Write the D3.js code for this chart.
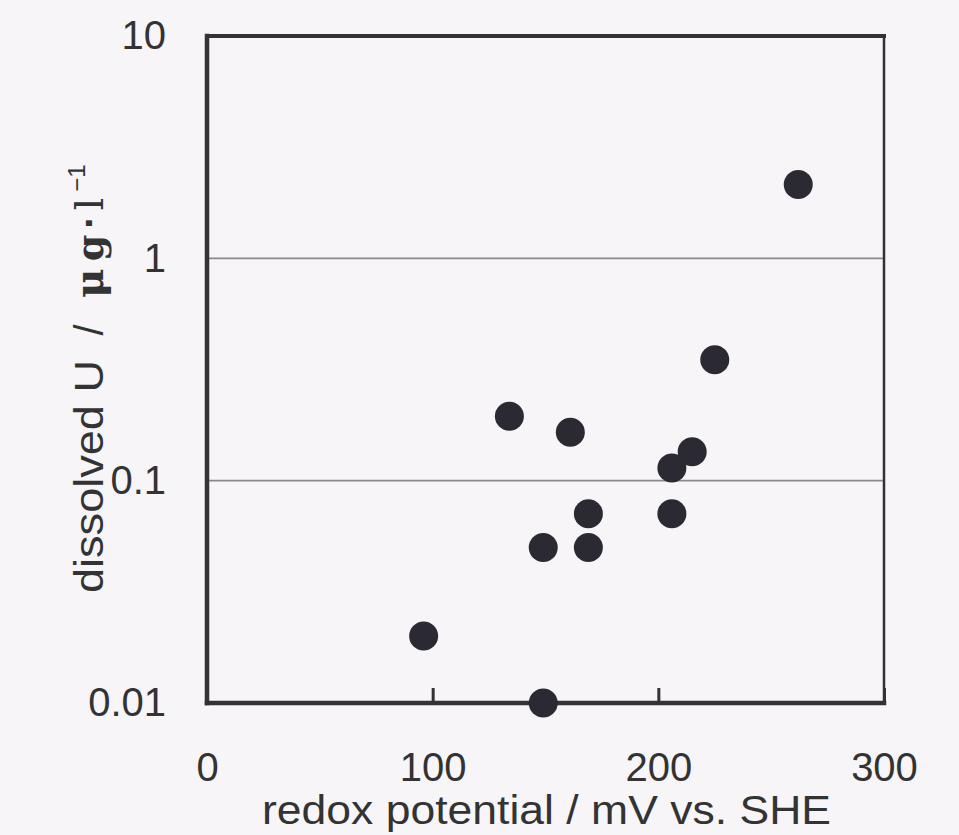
<!DOCTYPE html>
<html>
<head>
<meta charset="utf-8">
<script src="https://cdn.jsdelivr.net/npm/d3@7"></script>
<style>
  body { margin: 0; background: #f7f5f7; }
  svg { display: block; }
  text { font-family: "Liberation Sans", Arial, sans-serif; fill: #333; }
</style>
</head>
<body>
<div id="container"></div>
<script>
// redox potential (mV vs. SHE) and dissolved U (ug/l)
const redox = [96, 134, 149, 161, 169, 169, 149, 206, 215, 206, 225, 262];
const dissolvedU = [0.02, 0.195, 0.05, 0.165, 0.071, 0.05, 0.01, 0.114, 0.135, 0.071, 0.35, 2.15];

const xTicks = [0, 100, 200, 300];
const yTicks = [0.01, 0.1, 1, 10];
const gridValues = [0.1, 1];

const width = 959;
const height = 835;
const margin = {top: 36, right: 75, bottom: 132, left: 207};

const svg = d3.select("#container")
  .append("svg")
  .attr("width", width)
  .attr("height", height);

svg.append("rect")
  .attr("width", width)
  .attr("height", height)
  .attr("fill", "#f7f5f7");

const x = d3.scaleLinear()
  .domain([0, 300])
  .range([margin.left, width - margin.right]);

const y = d3.scaleLog()
  .domain([0.01, 10])
  .range([height - margin.bottom, margin.top]);

// grid lines
svg.selectAll("line.grid")
  .data(gridValues)
  .enter().append("line")
  .attr("class", "grid")
  .attr("x1", x(0))
  .attr("x2", x(300))
  .attr("y1", d => y(d))
  .attr("y2", d => y(d))
  .attr("stroke", "#8a8a8a")
  .attr("stroke-width", 1.6);

// x axis (inward ticks)
const xAxis = svg.append("g")
  .attr("transform", `translate(0,${y(0.01)})`)
  .call(d3.axisBottom(x)
    .tickValues(xTicks)
    .tickSizeInner(-15)
    .tickSizeOuter(0)
    .tickPadding(50)
    .tickFormat(d3.format("d")));
xAxis.select(".domain").remove();
xAxis.selectAll(".tick line").attr("stroke", "#333").attr("stroke-width", 3);
xAxis.selectAll(".tick text")
  .style("font-size", "40px")
  .attr("fill", "#333");

// y axis
const yAxis = svg.append("g")
  .attr("transform", `translate(${x(0)},0)`)
  .call(d3.axisLeft(y)
    .tickValues(yTicks)
    .tickSize(0)
    .tickPadding(41)
    .tickFormat(d => String(d)));
yAxis.select(".domain").remove();
yAxis.selectAll(".tick text")
  .style("font-size", "40px")
  .attr("fill", "#333");

// frame
const frame = svg.append("g").attr("stroke", "#333").attr("stroke-linecap", "square");
frame.append("line")
  .attr("x1", x(0)).attr("x2", x(300))
  .attr("y1", y(10)).attr("y2", y(10))
  .attr("stroke-width", 4);
frame.append("line")
  .attr("x1", x(0)).attr("x2", x(0))
  .attr("y1", y(10)).attr("y2", y(0.01))
  .attr("stroke-width", 4.5);
frame.append("line")
  .attr("x1", x(0)).attr("x2", x(300))
  .attr("y1", y(0.01)).attr("y2", y(0.01))
  .attr("stroke-width", 4.5);
frame.append("line")
  .attr("x1", x(300)).attr("x2", x(300))
  .attr("y1", y(10)).attr("y2", y(0.01))
  .attr("stroke-width", 2.5);

// points
svg.selectAll("circle.pt")
  .data(redox.map((d, i) => ({x: d, y: dissolvedU[i]})))
  .enter().append("circle")
  .attr("class", "pt")
  .attr("cx", d => x(d.x))
  .attr("cy", d => y(d.y))
  .attr("r", 14.5)
  .attr("fill", "#2b2a33");

// x axis title
svg.append("text")
  .attr("x", 262)
  .attr("y", 824)
  .attr("textLength", 569)
  .attr("lengthAdjust", "spacingAndGlyphs")
  .style("font-size", "40px")
  .text("redox potential / mV vs. SHE");

// y axis title, pieces laid upward along the left side
function yPiece(txt, yPos, opts = {}) {
  const t = svg.append("text")
    .attr("transform", `translate(${103 - (opts.raise || 0)},${yPos}) rotate(-90)`)
    .attr("text-anchor", opts.anchor || "middle")
    .style("font-size", (opts.size || 40) + "px")
    .text(txt);
  if (opts.serif) t.style("font-family", "'DejaVu Serif', 'Liberation Serif', serif");
  if (opts.bold) t.style("font-weight", "bold");
  if (opts.len) t.attr("textLength", opts.len).attr("lengthAdjust", "spacingAndGlyphs");
  return t;
}
yPiece("dissolved U", 593, {anchor: "start", len: 233});
yPiece("/", 330, {size: 40});
yPiece("μ", 283, {size: 40, serif: true, bold: true});
yPiece("g", 248, {size: 38, serif: true, bold: true});
yPiece("·", 222, {size: 40, bold: true});
yPiece("l", 204, {size: 40, serif: true});
yPiece("−1", 178, {size: 24, raise: 18});
</script>
</body>
</html>
